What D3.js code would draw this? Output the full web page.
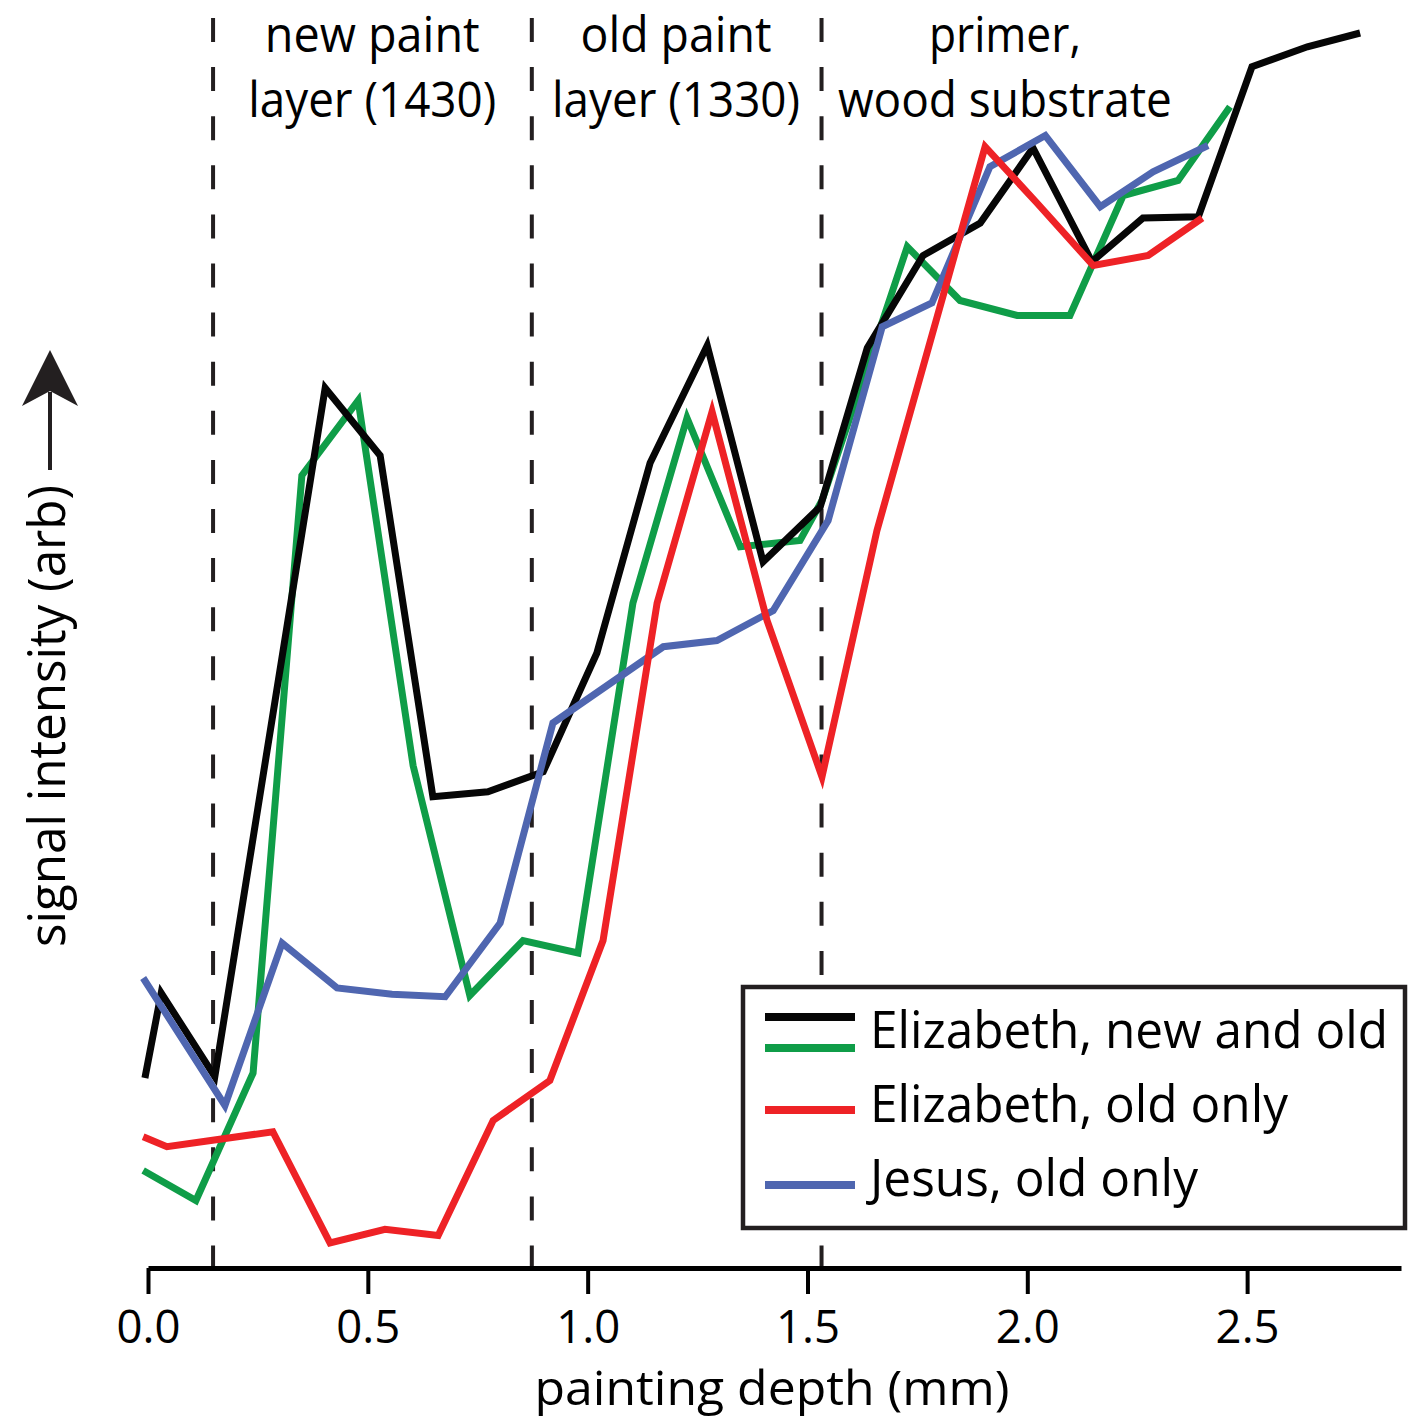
<!DOCTYPE html>
<html>
<head>
<meta charset="utf-8">
<script src="https://cdn.jsdelivr.net/npm/d3@7"></script>
<style>
  html, body { margin: 0; padding: 0; background: #fff; }
  svg { display: block; }
  text { font-family: "Open Sans", "Noto Sans", sans-serif; fill: #000; }
</style>
</head>
<body>
<svg id="chart" width="1419" height="1421"></svg>
<script>
// Depth profiles: [depth (mm), signal (arb. units)]
const elizabethNewOldA = [
  [-0.007, 15.2], [0.030, 22.0], [0.152, 15.3], [0.403, 70.4], [0.528, 65.0],
  [0.648, 37.7], [0.773, 38.1], [0.899, 39.7], [1.021, 49.2], [1.142, 64.4],
  [1.272, 73.8], [1.399, 56.5], [1.529, 60.9], [1.636, 73.6], [1.763, 81.0],
  [1.893, 83.6], [2.013, 89.6], [2.147, 80.5], [2.263, 84.0], [2.389, 84.1],
  [2.511, 96.1], [2.637, 97.7], [2.757, 98.8]
];
const elizabethNewOldB = [
  [-0.011, 7.8], [0.109, 5.4], [0.239, 15.6], [0.350, 63.4], [0.478, 69.4],
  [0.603, 40.2], [0.732, 21.8], [0.853, 26.2], [0.978, 25.2], [1.103, 53.2],
  [1.226, 68.0], [1.347, 57.7], [1.483, 58.2], [1.533, 61.4], [1.670, 75.7],
  [1.727, 81.7], [1.847, 77.4], [1.977, 76.2], [2.097, 76.2], [2.218, 85.8],
  [2.343, 87.0], [2.461, 92.9]
];
const elizabethOldOnly = [
  [-0.011, 10.5], [0.043, 9.7], [0.284, 10.9], [0.414, 2.0], [0.539, 3.1],
  [0.660, 2.6], [0.785, 11.8], [0.914, 15.0], [1.035, 26.2], [1.158, 53.2],
  [1.283, 68.5], [1.408, 51.8], [1.533, 39.3], [1.658, 59.0], [1.904, 89.7],
  [2.022, 85.2], [2.150, 80.2], [2.275, 81.0], [2.398, 84.0]
];
const jesusOldOnly = [
  [-0.011, 23.2], [0.175, 13.0], [0.305, 26.0], [0.430, 22.4], [0.555, 21.9],
  [0.676, 21.7], [0.801, 27.6], [0.921, 43.6], [1.172, 49.7], [1.294, 50.2],
  [1.422, 52.6], [1.547, 59.8], [1.670, 75.3], [1.783, 77.2], [1.915, 88.1],
  [2.041, 90.6], [2.166, 84.9], [2.286, 87.7], [2.411, 89.8]
];

// Layer boundaries (mm) and the layer captions between them
const layerBoundaries = [0.148, 0.873, 1.532];
const layerLabels = [
  { lines: ["new paint", "layer (1430)"], depth: 0.510 },
  { lines: ["old paint", "layer (1330)"], depth: 1.201 },
  { lines: ["primer,", "wood substrate"], depth: 1.949 }
];
const xTicks = [0.0, 0.5, 1.0, 1.5, 2.0, 2.5];

const legendEntries = [
  { label: "Elizabeth, new and old", colors: ["#060606", "#0f9d48"] },
  { label: "Elizabeth, old only", colors: ["#ee2226"] },
  { label: "Jesus, old only", colors: ["#4f66b0"] }
];

const seriesList = [
  { data: elizabethNewOldB, color: "#0f9d48" },
  { data: elizabethNewOldA, color: "#060606" },
  { data: jesusOldOnly, color: "#4f66b0" },
  { data: elizabethOldOnly, color: "#ee2226" }
];

const svg = d3.select("#chart");
const axisY = 1268;

const x = d3.scaleLinear().domain([0, 2.85]).range([148, 1401]);
const y = d3.scaleLinear().domain([0, 100]).range([axisY, 18]);

// squeeze a text element to a given rendered width
function fit(sel, w) {
  sel.attr("textLength", w).attr("lengthAdjust", "spacingAndGlyphs");
  return sel;
}

// dashed layer boundaries
svg.append("g").selectAll("line")
  .data(layerBoundaries)
  .join("line")
  .attr("x1", d => x(d)).attr("x2", d => x(d))
  .attr("y1", 18).attr("y2", axisY)
  .attr("stroke", "#231f20")
  .attr("stroke-width", 4)
  .attr("stroke-dasharray", "24 25.1");

// layer captions
const capWidths = [[215, 248], [191, 248], [152, 334]];
layerLabels.forEach((lab, i) => {
  lab.lines.forEach((t, j) => {
    fit(svg.append("text")
      .attr("x", x(lab.depth))
      .attr("y", j === 0 ? 52 : 117)
      .attr("text-anchor", "middle")
      .attr("font-size", 49)
      .text(t), capWidths[i][j]);
  });
});

// profile lines
const line = d3.line().x(d => x(d[0])).y(d => y(d[1]));
svg.append("g").selectAll("path")
  .data(seriesList)
  .join("path")
  .attr("d", d => line(d.data))
  .attr("fill", "none")
  .attr("stroke", d => d.color)
  .attr("stroke-width", 7)
  .attr("stroke-linejoin", "miter")
  .attr("stroke-miterlimit", 6)
  .attr("stroke-linecap", "butt");

// x axis
const xAxis = d3.axisBottom(x)
  .tickValues(xTicks)
  .tickFormat(d3.format(".1f"))
  .tickSize(26)
  .tickSizeOuter(0);
const gx = svg.append("g").attr("transform", `translate(0,${axisY})`).call(xAxis);
gx.select(".domain").attr("stroke", "#000").attr("stroke-width", 5);
gx.selectAll(".tick line").attr("stroke", "#000").attr("stroke-width", 4);
gx.selectAll(".tick text")
  .attr("y", 75).attr("dy", null)
  .attr("font-size", 46)
  .attr("font-family", "\"Open Sans\", sans-serif")
  .attr("fill", "#000")
  .attr("textLength", 64).attr("lengthAdjust", "spacingAndGlyphs");

// axis titles
fit(svg.append("text")
  .attr("x", 772).attr("y", 1405)
  .attr("text-anchor", "middle")
  .attr("font-size", 47)
  .text("painting depth (mm)"), 475);

fit(svg.append("text")
  .attr("transform", "translate(65,716) rotate(-90)")
  .attr("text-anchor", "middle")
  .attr("font-size", 52)
  .text("signal intensity (arb)"), 462);

// upward arrow next to the y title
svg.append("line")
  .attr("x1", 50).attr("x2", 50).attr("y1", 470).attr("y2", 392)
  .attr("stroke", "#231f20").attr("stroke-width", 4);
svg.append("path")
  .attr("d", "M50,350 L78,406 L50,391 L22,406 Z")
  .attr("fill", "#231f20");

// legend
const lg = svg.append("g");
lg.append("rect")
  .attr("x", 743).attr("y", 987).attr("width", 662).attr("height", 241)
  .attr("fill", "#fff").attr("stroke", "#231f20").attr("stroke-width", 4.5);
const sampleY = [[1017, 1048], [1110], [1185]];
const textY = [1048, 1122, 1196];
const textW = [518, 418, 328];
legendEntries.forEach((e, i) => {
  e.colors.forEach((c, k) => {
    lg.append("line")
      .attr("x1", 765).attr("x2", 855)
      .attr("y1", sampleY[i][k]).attr("y2", sampleY[i][k])
      .attr("stroke", c).attr("stroke-width", 8);
  });
  fit(lg.append("text")
    .attr("x", 870).attr("y", textY[i])
    .attr("font-size", 52)
    .text(e.label), textW[i]);
});
</script>
</body>
</html>
